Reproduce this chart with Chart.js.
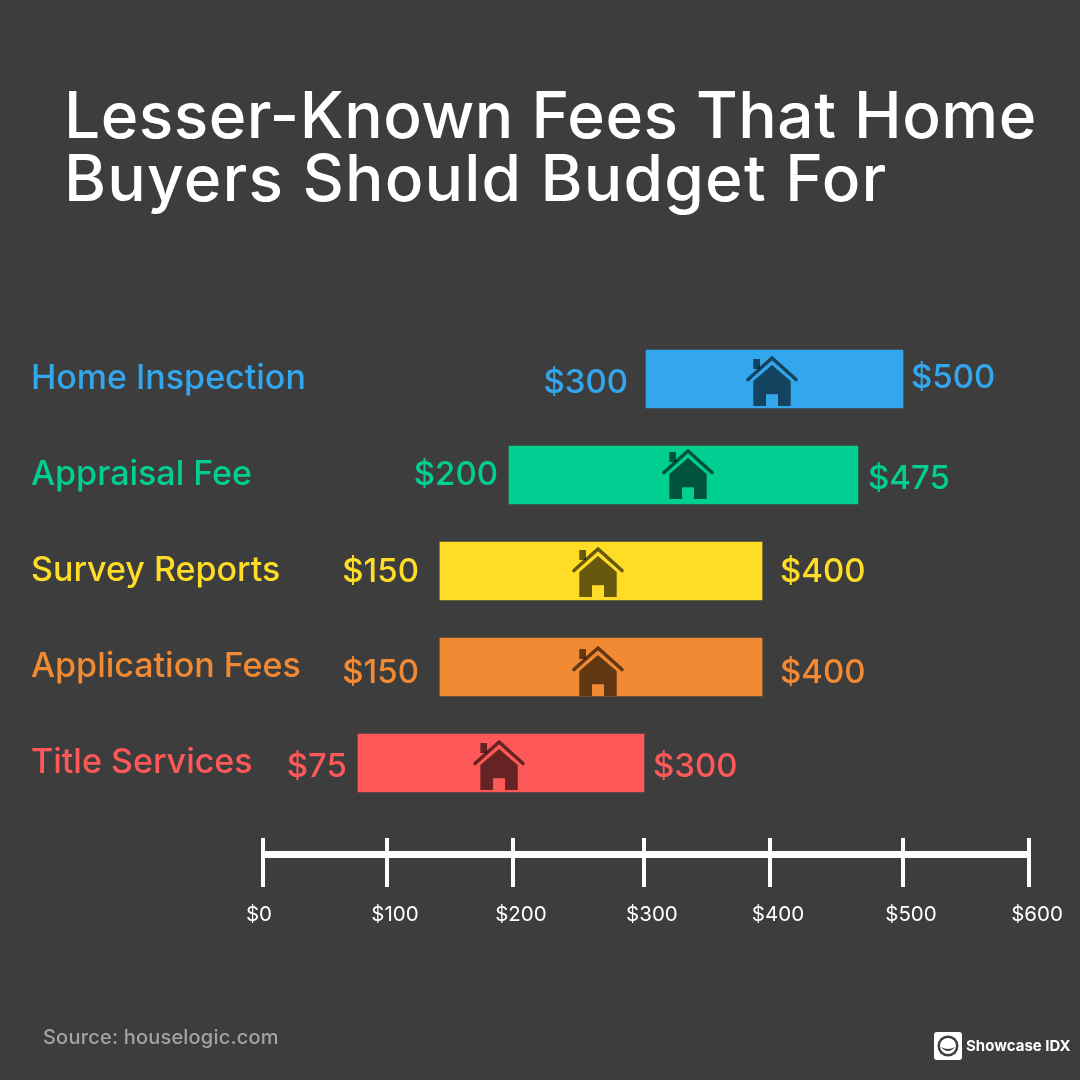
<!DOCTYPE html>
<html>
<head>
<meta charset="utf-8">
<title>Lesser-Known Fees</title>
<script src="https://cdn.jsdelivr.net/npm/chart.js@4"></script>
<style>
  html, body { margin: 0; background: #3d3d3d; }
  #wrap { position: relative; width: 1080px; height: 1080px; overflow: hidden; }
  canvas { position: absolute; left: 0; top: 0; }
  h1 { position: absolute; left: 64px; top: 83px; margin: 0; color: #fff; font: 500 64px/63px Inter, sans-serif; white-space: nowrap; }
  h1 span { display: block; }
  #source { position: absolute; left: 43px; top: 1024px; color: #a3a3a3; font: 500 20px/26px Inter, sans-serif; letter-spacing: 0.2px; }
  #brand { position: absolute; left: 966px; top: 1035px; color: #fff; font: 700 15px/22px Inter, sans-serif; white-space: nowrap; }
  #mark { position: absolute; left: 934px; top: 1032px; }
</style>
</head>
<body>
<div id="wrap">
  <canvas id="chart" width="1080" height="1080"></canvas>
  <h1><span style="letter-spacing:0.5px">Lesser-Known Fees That Home</span><span style="letter-spacing:1.2px">Buyers Should Budget For</span></h1>
  <div id="source">Source: houselogic.com</div>
  <svg id="mark" width="28" height="28" viewBox="0 0 28 28">
    <rect width="28" height="28" rx="3" fill="#fff"/>
    <circle cx="14" cy="14" r="10.5" fill="#3d3d3d"/>
    <circle cx="14" cy="14" r="8" fill="#fff"/>
    <path d="M7 15 Q14 23 21 15 Q14 19 7 15Z" fill="#3d3d3d"/>
  </svg>
  <div id="brand">Showcase IDX</div>
</div>
<script>
const categories = ["Home Inspection", "Appraisal Fee", "Survey Reports", "Application Fees", "Title Services"];
const colors = ["#33a7ee", "#00cf91", "#ffdd27", "#f28a33", "#ff5858"];

// what the labels say
const lowLabels = ["$300", "$200", "$150", "$150", "$75"];
const highLabels = ["$500", "$475", "$400", "$400", "$300"];

// where the bars actually sit against the axis in the picture
const barLow = [300, 192.7, 138.6, 138.6, 74.4];
const barHigh = [501.3, 466, 390.9, 390.9, 298.4];
const houseAt = [398.7, 332.9, 262.4, 262.4, 184.9];

const tickValues = [0, 97.1, 195.8, 298.4, 397.1, 501.3, 600];
const tickLabels = ["$0", "$100", "$200", "$300", "$400", "$500", "$600"];

const labelFont = "500 33px Inter, sans-serif";

// house icon, drawn around its centre
function drawHouse(ctx, x, y) {
  ctx.save();
  ctx.translate(x, y);
  ctx.fillStyle = "rgba(0,0,0,0.6)";
  ctx.strokeStyle = "rgba(0,0,0,0.6)";
  ctx.fillRect(-18.7, -22, 6.7, 10);
  ctx.lineWidth = 3.6;
  ctx.lineCap = "round";
  ctx.lineJoin = "round";
  ctx.beginPath();
  ctx.moveTo(-24, -1.5);
  ctx.lineTo(0, -23);
  ctx.lineTo(24, -1.5);
  ctx.stroke();
  const body = new Path2D("M0 -16 L18.7 0 L18.7 25 L6 25 L6 13.3 L-6 13.3 L-6 25 L-18.7 25 L-18.7 0 Z");
  ctx.fill(body);
  ctx.restore();
}

const annotations = {
  id: "annotations",
  afterDatasetsDraw(chart) {
    const ctx = chart.ctx;
    const bars = chart.getDatasetMeta(0).data;
    const xs = chart.scales.x;
    const lowGap = [18, 11, 21, 21, 11];
    const highGap = [8, 10, 18, 18, 9];
    const lowDy = [4, 0, 1, 6, 4];
    const highDy = [-1, 4, 1, 6, 4];
    const houseDy = [2, -1, 1, 4, 2];
    ctx.save();
    ctx.font = labelFont;
    ctx.textBaseline = "middle";
    bars.forEach((bar, i) => {
      const y = bar.y;
      ctx.fillStyle = colors[i];
      ctx.textAlign = "right";
      ctx.fillText(lowLabels[i], xs.getPixelForValue(barLow[i]) - lowGap[i], y + lowDy[i]);
      ctx.textAlign = "left";
      ctx.fillText(highLabels[i], xs.getPixelForValue(barHigh[i]) + highGap[i], y + highDy[i]);
      drawHouse(ctx, xs.getPixelForValue(houseAt[i]), y + houseDy[i]);
    });
    ctx.restore();
  },
  afterDraw(chart) {
    // heavy baseline and the tick labels, which sit slightly off their ticks
    const ctx = chart.ctx;
    const xs = chart.scales.x;
    ctx.save();
    ctx.strokeStyle = "#fff";
    ctx.lineWidth = 7;
    ctx.beginPath();
    ctx.moveTo(xs.left, xs.top + 16.5);
    ctx.lineTo(xs.right, xs.top + 16.5);
    ctx.stroke();
    ctx.fillStyle = "#fff";
    ctx.font = "400 20.5px Inter, sans-serif";
    ctx.textAlign = "center";
    ctx.textBaseline = "middle";
    tickLabels.forEach((label, i) => {
      const shift = i === 0 ? -4 : 8;
      ctx.fillText(label, xs.getPixelForValue(tickValues[i]) + shift, xs.bottom + 28);
    });
    ctx.restore();
  }
};

new Chart(document.getElementById("chart").getContext("2d"), {
  type: "bar",
  data: {
    labels: categories,
    datasets: [{
      data: barLow.map((low, i) => [low, barHigh[i]]),
      backgroundColor: colors,
      borderWidth: 0,
      borderSkipped: false,
      barThickness: 58
    }]
  },
  plugins: [annotations],
  options: {
    indexAxis: "y",
    responsive: false,
    animation: false,
    layout: { padding: { left: 32, right: 51, top: 331, bottom: 193 } },
    plugins: { legend: { display: false }, tooltip: { enabled: false } },
    scales: {
      x: {
        min: 0,
        max: 600,
        weight: 1,
        afterBuildTicks(scale) { scale.ticks = tickValues.map(v => ({ value: v })); },
        afterFit(scale) { scale.height = 49; },
        ticks: { display: false },
        border: { display: false },
        grid: { drawOnChartArea: false, color: "#fff", tickLength: 49, lineWidth: 4, tickColor: "#fff", tickWidth: 4 }
      },
      // empty axis, keeps the ruler clear of the last bar
      spacer: {
        type: "linear",
        position: "bottom",
        weight: 0,
        afterFit(scale) { scale.height = 27; },
        ticks: { display: false },
        border: { display: false },
        grid: { display: false }
      },
      y: {
        afterFit(scale) { scale.width = 231; },
        border: { display: false },
        grid: { display: false, drawTicks: false },
        ticks: {
          // mirror turns off the label clipping, padding brings them back to the left edge
          mirror: true,
          padding: -232,
          font: { family: "Inter, sans-serif", size: 34, weight: "500" },
          color: ctx => colors[ctx.index]
        }
      }
    }
  }
});
</script>
</body>
</html>
